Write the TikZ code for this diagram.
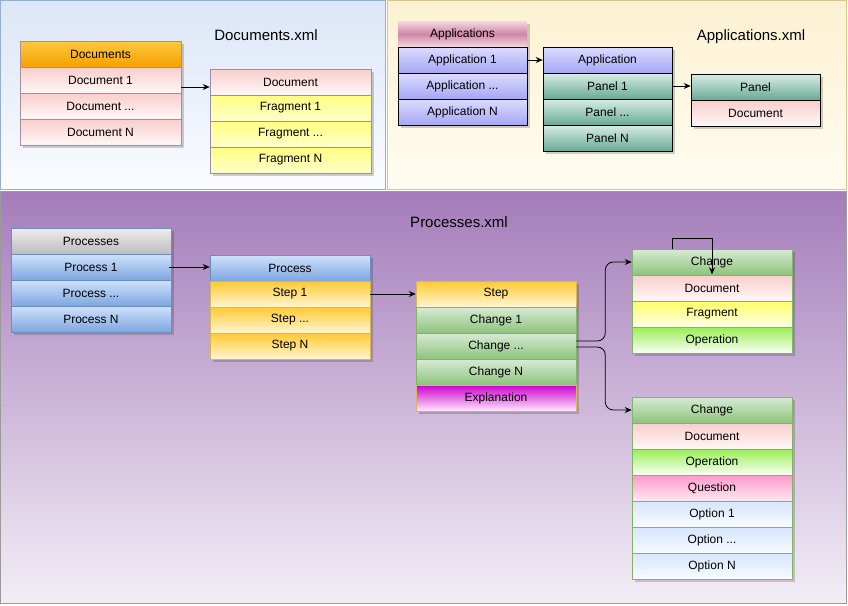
\documentclass[tikz,border=0pt]{standalone}
\usepackage{fontspec}
\setmainfont{Liberation Sans}
\usetikzlibrary{arrows.meta,shadows}
\definecolor{docPT}{HTML}{DCE6F6}\definecolor{docPB}{HTML}{FAFCFF}\definecolor{docPD}{HTML}{98AECF}
\definecolor{appPT}{HTML}{FCF1D2}\definecolor{appPB}{HTML}{FFFCF0}\definecolor{appPD}{HTML}{D8C690}
\definecolor{proPT}{HTML}{A47CBA}\definecolor{proPB}{HTML}{F3EEF6}\definecolor{proPD}{HTML}{9A9A9A}
\definecolor{orT}{HTML}{FFC93E}\definecolor{orB}{HTML}{F5A000}
\definecolor{pkT}{HTML}{F8CECC}\definecolor{pkB}{HTML}{FFF7F7}
\definecolor{ylT}{HTML}{FFFF80}\definecolor{ylB}{HTML}{FFFFCC}
\definecolor{mgO}{HTML}{F4D8E2}\definecolor{mgM}{HTML}{CF86A6}
\definecolor{lvT}{HTML}{DCDCFF}\definecolor{lvB}{HTML}{A6A6F4}
\definecolor{tlT}{HTML}{D8EDE5}\definecolor{tlB}{HTML}{68AA96}
\definecolor{gyT}{HTML}{EEEEEE}\definecolor{gyB}{HTML}{BCBCBC}
\definecolor{blT}{HTML}{CFE2FB}\definecolor{blB}{HTML}{7EA6E0}
\definecolor{stT}{HTML}{FFC933}\definecolor{stB}{HTML}{FFF6D2}
\definecolor{grT}{HTML}{D8EAD6}\definecolor{grB}{HTML}{8DC47A}
\definecolor{exT}{HTML}{CC00CC}\definecolor{exB}{HTML}{FFE8FF}
\definecolor{opT}{HTML}{99EE55}\definecolor{opB}{HTML}{FAFFF5}
\definecolor{frT}{HTML}{FFFF66}\definecolor{frB}{HTML}{FFFFE8}
\definecolor{quT}{HTML}{FF99CC}\definecolor{quB}{HTML}{FFE8F2}
\definecolor{oxT}{HTML}{D6E6FC}\definecolor{oxB}{HTML}{F8FBFF}
\definecolor{bdDoc}{HTML}{A88C96}\definecolor{bdFr}{HTML}{9C8CB0}
\definecolor{bdPr}{HTML}{6C8EBF}\definecolor{bdSt}{HTML}{D6B656}\definecolor{bdGr}{HTML}{82B366}
\begin{document}
\begin{tikzpicture}[x=1pt,y=-1pt,
  cell/.style={rectangle,inner sep=0pt,minimum height=26pt,text=black,
    font=\fontsize{12}{14}\selectfont,line width=0.6pt,
    drop shadow={shadow xshift=3pt,shadow yshift=-3pt,fill=black,opacity=0.18}},
  wD/.style={cell,minimum width=161pt},
  wA/.style={cell,minimum width=129pt},
  wP/.style={cell,minimum width=160pt},
  orange/.style={top color=orT,bottom color=orB},
  pink/.style={top color=pkT,bottom color=pkB},
  yell/.style={top color=ylT,bottom color=ylB},
  mag/.style={top color=mgO,bottom color=mgO,middle color=mgM},
  lav/.style={top color=lvT,bottom color=lvB},
  teal/.style={top color=tlT,bottom color=tlB},
  gray/.style={top color=gyT,bottom color=gyB},
  blue/.style={top color=blT,bottom color=blB},
  stp/.style={top color=stT,bottom color=stB},
  grn/.style={top color=grT,bottom color=grB},
  expl/.style={top color=exT,bottom color=exB},
  oper/.style={top color=opT,bottom color=opB},
  frag/.style={top color=frT,bottom color=frB},
  ques/.style={top color=quT,bottom color=quB},
  optn/.style={top color=oxT,bottom color=oxB},
  title/.style={font=\fontsize{15}{18}\selectfont,text=black},
  arr/.style={-{Stealth[length=7pt,width=6pt]},black,line width=0.8pt}]
\useasboundingbox (0,0) rectangle (848,605);
% panels
\shade[top color=docPT,bottom color=docPB,draw=docPD,line width=0.8pt] (0.5,0.5) rectangle (385,189);
\shade[top color=appPT,bottom color=appPB,draw=appPD,line width=0.8pt] (387,0.5) rectangle (846,189);
\shade[top color=proPT,bottom color=proPB,draw=proPD,line width=0.8pt] (0.5,191) rectangle (846,603);
% titles
\node[title] (tdoc) at (266,35) {Documents.xml};
\node[title] (tapp) at (751,37) {Applications.xml};
\node[title] (tpro) at (459,222) {Processes.xml};
% Documents
\node[wD,orange,draw=bdDoc] (dh) at (100.5,54) {Documents};
\node[wD,pink,draw=bdDoc] (d1) at (100.5,80) {Document 1};
\node[wD,pink,draw=bdDoc] (d2) at (100.5,106) {Document ...};
\node[wD,pink,draw=bdDoc] (dN) at (100.5,132) {Document N};
\node[wD,pink,draw=bdFr] (doc) at (290.5,82) {Document};
\node[wD,yell,draw=bdFr] (f1) at (290.5,108) {Fragment 1};
\node[wD,yell,draw=bdFr] (f2) at (290.5,134) {Fragment ...};
\node[wD,yell,draw=bdFr] (fN) at (290.5,160) {Fragment N};
% Applications
\node[wA,mag] (ah) at (462.5,34) {Applications};
\node[wA,lav,draw=black] (a1) at (462.5,60) {Application 1};
\node[wA,lav,draw=black] (a2) at (462.5,86) {Application ...};
\node[wA,lav,draw=black] (aN) at (462.5,112) {Application N};
\node[wA,lav,draw=black] (app) at (607.5,60) {Application};
\node[wA,teal,draw=black] (p1) at (607.5,86) {Panel 1};
\node[wA,teal,draw=black] (p2) at (607.5,112) {Panel ...};
\node[wA,teal,draw=black] (pN) at (607.5,138) {Panel N};
\node[wA,teal,draw=black] (pan) at (755.5,87) {Panel};
\node[wA,pink,draw=black] (pdoc) at (755.5,113) {Document};
% Processes
\node[wP,gray,draw=bdPr] (ph) at (91,241) {Processes};
\node[wP,blue,draw=bdPr] (pr1) at (91,267) {Process 1};
\node[wP,blue,draw=bdPr] (pr2) at (91,293) {Process ...};
\node[wP,blue,draw=bdPr] (prN) at (91,319) {Process N};
\node[wP,blue,draw=bdPr] (proc) at (290,268) {Process};
\node[wP,stp,draw=bdSt] (s1) at (290,294) {Step 1};
\node[wP,stp,draw=bdSt] (s2) at (290,320) {Step ...};
\node[wP,stp,draw=bdSt] (sN) at (290,346) {Step N};
\node[wP,stp,draw=bdSt] (st) at (496,294) {Step};
\node[wP,grn,draw=bdGr] (c1) at (496,320) {Change 1};
\node[wP,grn,draw=bdGr] (c2) at (496,346) {Change ...};
\node[wP,grn,draw=bdGr] (cN) at (496,372) {Change N};
\node[wP,expl,draw=bdSt] (ex) at (496,398) {Explanation};
\node[wP,grn,draw=bdGr] (ch1) at (712,262) {Change};
\node[wP,pink,draw=bdGr] (cd1) at (712,288) {Document};
\node[wP,frag,draw=bdGr] (cf1) at (712,314) {Fragment};
\node[wP,oper,draw=bdGr] (co1) at (712,340) {Operation};
\node[wP,grn,draw=bdGr] (ch2) at (712,410) {Change};
\node[wP,pink,draw=bdGr] (cd2) at (712,436) {Document};
\node[wP,oper,draw=bdGr] (co2) at (712,462) {Operation};
\node[wP,ques,draw=bdGr] (cq) at (712,488) {Question};
\node[wP,optn,draw=bdGr] (op1) at (712,514) {Option 1};
\node[wP,optn,draw=bdGr] (op2) at (712,540) {Option ...};
\node[wP,optn,draw=bdGr] (opN) at (712,566) {Option N};
% connectors
\draw[arr] ([yshift=-7pt]d1.east) -- ([yshift=-7pt]d1.east -| doc.west);
\draw[arr] (a1.east) -- (app.west);
\draw[arr] (p1.east) -- (p1.east -| pan.west);
\draw[arr] ([xshift=-2pt]pr1.east) -- (pr1.east -| proc.west);
\draw[arr] (s1.east) -- (st.west);
\draw[arr,rounded corners=8pt] ([yshift=5pt]c2.east) -- ++(29,0) |- (ch1.west);
\draw[arr,rounded corners=8pt] ([yshift=-1pt]c2.east) -- ++(29,0) |- (ch2.west);
\draw[arr] ([xshift=-40pt]ch1.north) -- ++(0,-10) -| ([yshift=1pt]ch1.south);
\end{tikzpicture}
\end{document}
